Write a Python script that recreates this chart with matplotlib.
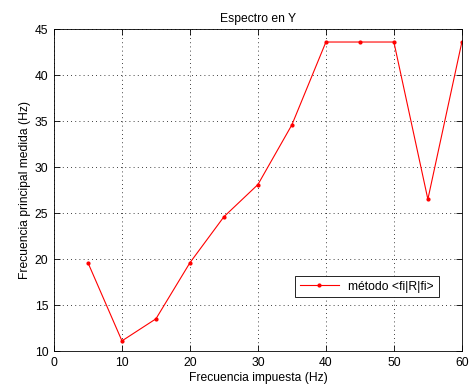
import matplotlib
matplotlib.use("Agg")
import matplotlib.pyplot as plt

plt.rcParams['font.family'] = ['Liberation Sans', 'DejaVu Sans']
plt.rcParams['font.size'] = 8.7

# frecuencia impuesta vs frecuencia principal medida
freq_impuesta = [5, 10, 15, 20, 25, 30, 35, 40, 45, 50, 55, 60]
freq_medida = [19.6, 11.1, 13.5, 19.6, 24.6, 28.1, 34.6, 43.6, 43.6, 43.6, 26.5, 43.6]
x_ticks = [0, 10, 20, 30, 40, 50, 60]
y_ticks = [10, 15, 20, 25, 30, 35, 40, 45]

fig = plt.figure(figsize=(4.71, 3.85), dpi=100)
ax = fig.add_axes([0.1146, 0.0883, 0.866, 0.836])

ax.plot(freq_impuesta, freq_medida, color='red', marker='.', markersize=4,
        linewidth=0.8, label='método <fi|R|fi>')

ax.set_xlim(0, 60)
ax.set_ylim(10, 45)
ax.set_xticks(x_ticks)
ax.set_yticks(y_ticks)
ax.grid(True, linestyle=(0, (1, 4)), color='black', linewidth=0.6)
ax.tick_params(direction='in', top=True, right=True, length=4, width=0.6, pad=4)
for s in ax.spines.values():
    s.set_linewidth(0.6)

ax.set_title('Espectro en Y', fontsize=8.7, pad=5)
ax.set_xlabel('Frecuencia impuesta (Hz)', labelpad=2.5)
ax.set_ylabel('Frecuencia principal medida (Hz)', labelpad=3)

leg = ax.legend(loc='center', bbox_to_anchor=(0.767, 0.2), fancybox=False,
                edgecolor='black', framealpha=1, handlelength=3.2,
                borderpad=0.4)
leg.get_frame().set_linewidth(0.6)

fig.savefig('out.png', dpi=100)
